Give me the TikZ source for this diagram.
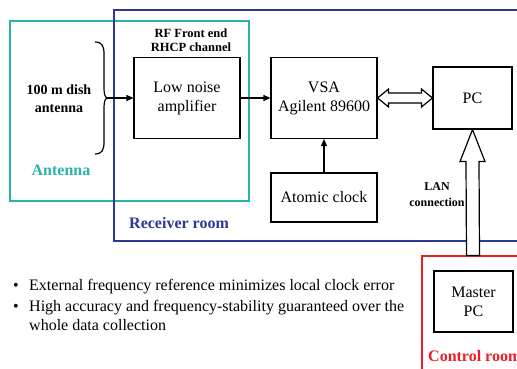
\documentclass[tikz,border=0pt]{standalone}
\usepackage{fontspec}
\setmainfont{Liberation Serif}
\usetikzlibrary{arrows.meta,calc}
\definecolor{tealc}{RGB}{40,180,170}
\definecolor{bluec}{RGB}{45,55,150}
\definecolor{redc}{RGB}{235,30,40}
\begin{document}
\begin{tikzpicture}[x=1pt,y=-1pt,
  box/.style={draw,line width=1.1pt,inner sep=0pt,align=center,font=\fontsize{16}{19}\selectfont},
  frame/.style={line width=1.2pt},
  roomlbl/.style={font=\bfseries\fontsize{16}{19}\selectfont,inner sep=0pt},
  small/.style={font=\bfseries\fontsize{12.5}{14}\selectfont,align=center,inner sep=0pt},
  txt/.style={font=\fontsize{16}{19}\selectfont,inner sep=0pt,align=left},
  arr/.style={line width=1.1pt,-{Triangle[length=7pt,width=6pt]}},
  hollow/.style={line width=1.2pt,fill=white,line join=miter}]
\useasboundingbox (0,0) rectangle (517,369);
\clip (0,0) rectangle (517,369);
% frames
\draw[frame,tealc] (10,21) rectangle (249,201);
\draw[frame,bluec] (114,10) rectangle (540,241);
\draw[frame,redc] (422,256) rectangle (540,390);
% room labels
\node[roomlbl,text=tealc] (antlbl) at (61,170) {Antenna};
\node[roomlbl,text=bluec,anchor=west] (rcvlbl) at (129,223) {Receiver room};
\node[roomlbl,text=redc,anchor=west] (ctllbl) at (428,356) {Control room};
% antenna
\node[font=\bfseries\fontsize{14}{18}\selectfont,align=center,inner sep=0pt] (dish) at (59,99) {100 m dish\\antenna};
\draw[line width=1.2pt] (95,42) .. controls (102,42) and (104,46) .. (104,54) -- (104,88) .. controls (104,94) and (105,97) .. (107,98) .. controls (105,99) and (104,102) .. (104,108) -- (104,142) .. controls (104,150) and (102,154) .. (95,154);
\coordinate (bt) at (106,98);
% boxes
\node[box,minimum width=106pt,minimum height=81pt] (lna) at (187,98) {Low noise\\amplifier};
\node[small] (rf) at (191,40) {RF Front end\\RHCP channel};
\node[box,minimum width=106pt,minimum height=81pt] (vsa) at (324,98) {VSA\\Agilent 89600};
\node[box,minimum width=79pt,minimum height=62pt] (pc) at (472.5,98) {PC};
\node[box,minimum width=106pt,minimum height=49pt] (clk) at (324,197.5) {Atomic clock};
\node[box,minimum width=79pt,minimum height=61pt] (mpc) at (473.5,301.5) {Master\\PC};
\node[font=\bfseries\fontsize{12}{16}\selectfont,align=center,inner sep=0pt] (lan) at (437,195) {LAN\\connection};
% connectors
\draw[arr] (bt) -- (lna.west);
\draw[arr] (lna.east) -- (vsa.west);
\draw[arr] (clk.north) -- (vsa.south);
\draw[hollow] (vsa.east) -- ++(11,-9) -- ++(0,4) -- ($(pc.west)+(-11,-5)$) -- ++(0,-4) -- (pc.west) -- ++(-11,9) -- ++(0,-4) -- ($(vsa.east)+(11,5)$) -- ++(0,4) -- cycle;
\coordinate (lanb) at (473,255.5);
\draw[hollow] (pc.south) -- ++(12.5,32) -- ++(-6,0) -- ($(lanb)+(6.5,0)$) -- ++(-13,0) -- ($(pc.south)+(-6.5,32)$) -- ++(-6,0) -- cycle;
% bullets
\node[txt,anchor=base west] (t1) at (29,290.5) {External frequency reference minimizes local clock error};
\node[txt,anchor=base] (d1) at (t1.base west) [xshift=-13pt] {\textbullet};
\node[txt,anchor=west] (t2) at (29,315.5) {High accuracy and frequency-stability guaranteed over the\\whole data collection};
\node[txt,anchor=base] (d2) at (16,311.5) {\textbullet};
\end{tikzpicture}
\end{document}
